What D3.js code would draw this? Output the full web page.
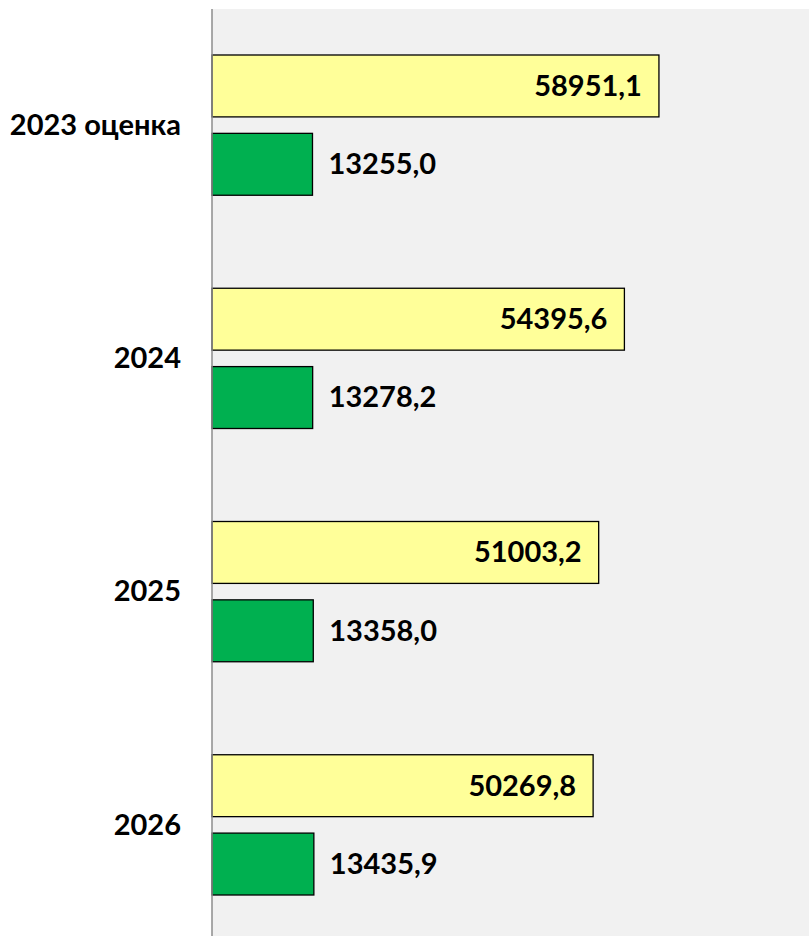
<!DOCTYPE html>
<html>
<head>
<meta charset="utf-8">
<script src="https://cdn.jsdelivr.net/npm/d3@7"></script>
<style>
  body { margin: 0; background: #fff; }
  text { font-family: Lato, "Open Sans", sans-serif; font-weight: bold; fill: #000; }
</style>
</head>
<body>
<div id="chart"></div>
<script>
// data
var categories = ["2023 оценка", "2024", "2025", "2026"];
var seriesA = [58951.1, 54395.6, 51003.2, 50269.8];   // yellow bars
var seriesB = [13255.0, 13278.2, 13358.0, 13435.9];   // green bars

var width = 809, height = 936;
var plot = {left: 212, top: 9, right: 809, bottom: 942};

var svg = d3.select("#chart").append("svg")
  .attr("width", width)
  .attr("height", height);

// plot area background
svg.append("rect")
  .attr("x", plot.left)
  .attr("y", plot.top)
  .attr("width", plot.right - plot.left)
  .attr("height", plot.bottom - plot.top)
  .attr("fill", "#f1f1f1");

var x = d3.scaleLinear()
  .domain([0, 80000])
  .range([plot.left, plot.left + 80000 / 131.9]);

var y = d3.scaleBand()
  .domain(categories)
  .range([plot.top, plot.bottom])
  .paddingInner(0)
  .paddingOuter(0);

// inner band for the two bars of each category
var sub = d3.scaleBand()
  .domain(["a", "b"])
  .range([46, y.bandwidth() - 47])
  .paddingInner(0.21);

var rows = categories.map(function(c, i) {
  return {cat: c, a: seriesA[i], b: seriesB[i]};
});

var fmt = function(v) { return d3.format(".1f")(v).replace(".", ","); };

var g = svg.selectAll(".cat")
  .data(rows)
  .enter().append("g")
  .attr("class", "cat")
  .attr("transform", function(d) { return "translate(0," + y(d.cat) + ")"; });

// yellow bars
g.append("rect")
  .attr("x", x(0))
  .attr("y", sub("a"))
  .attr("width", function(d) { return x(d.a) - x(0); })
  .attr("height", sub.bandwidth())
  .attr("fill", "#ffff99")
  .attr("stroke", "#000")
  .attr("stroke-width", 1.3);

// green bars
g.append("rect")
  .attr("x", x(0))
  .attr("y", sub("b"))
  .attr("width", function(d) { return x(d.b) - x(0); })
  .attr("height", sub.bandwidth())
  .attr("fill", "#00b050")
  .attr("stroke", "#000")
  .attr("stroke-width", 1.3);

// labels inside end of yellow bars
g.append("text")
  .attr("x", function(d) { return x(d.a) - 17; })
  .attr("y", sub("a") + sub.bandwidth() / 2)
  .attr("dy", "0.34em")
  .attr("text-anchor", "end")
  .style("font-size", "29px")
  .text(function(d) { return fmt(d.a); });

// labels outside end of green bars
g.append("text")
  .attr("x", function(d) { return x(d.b) + 16; })
  .attr("y", sub("b") + sub.bandwidth() / 2)
  .attr("dy", "0.34em")
  .attr("text-anchor", "start")
  .style("font-size", "29px")
  .text(function(d) { return fmt(d.b); });

// category axis
var axis = svg.append("g")
  .attr("transform", "translate(" + plot.left + ",0)")
  .call(d3.axisLeft(y).tickSize(0).tickPadding(31));
axis.select(".domain")
  .attr("stroke", "#8c8c8c")
  .attr("stroke-width", 1.5)
  .attr("d", "M0," + plot.top + "V" + height);
axis.selectAll(".tick text")
  .style("font-size", "29px")
  .style("font-family", "Lato, 'Open Sans', sans-serif")
  .style("font-weight", "bold")
  .attr("fill", "#000");
</script>
</body>
</html>
